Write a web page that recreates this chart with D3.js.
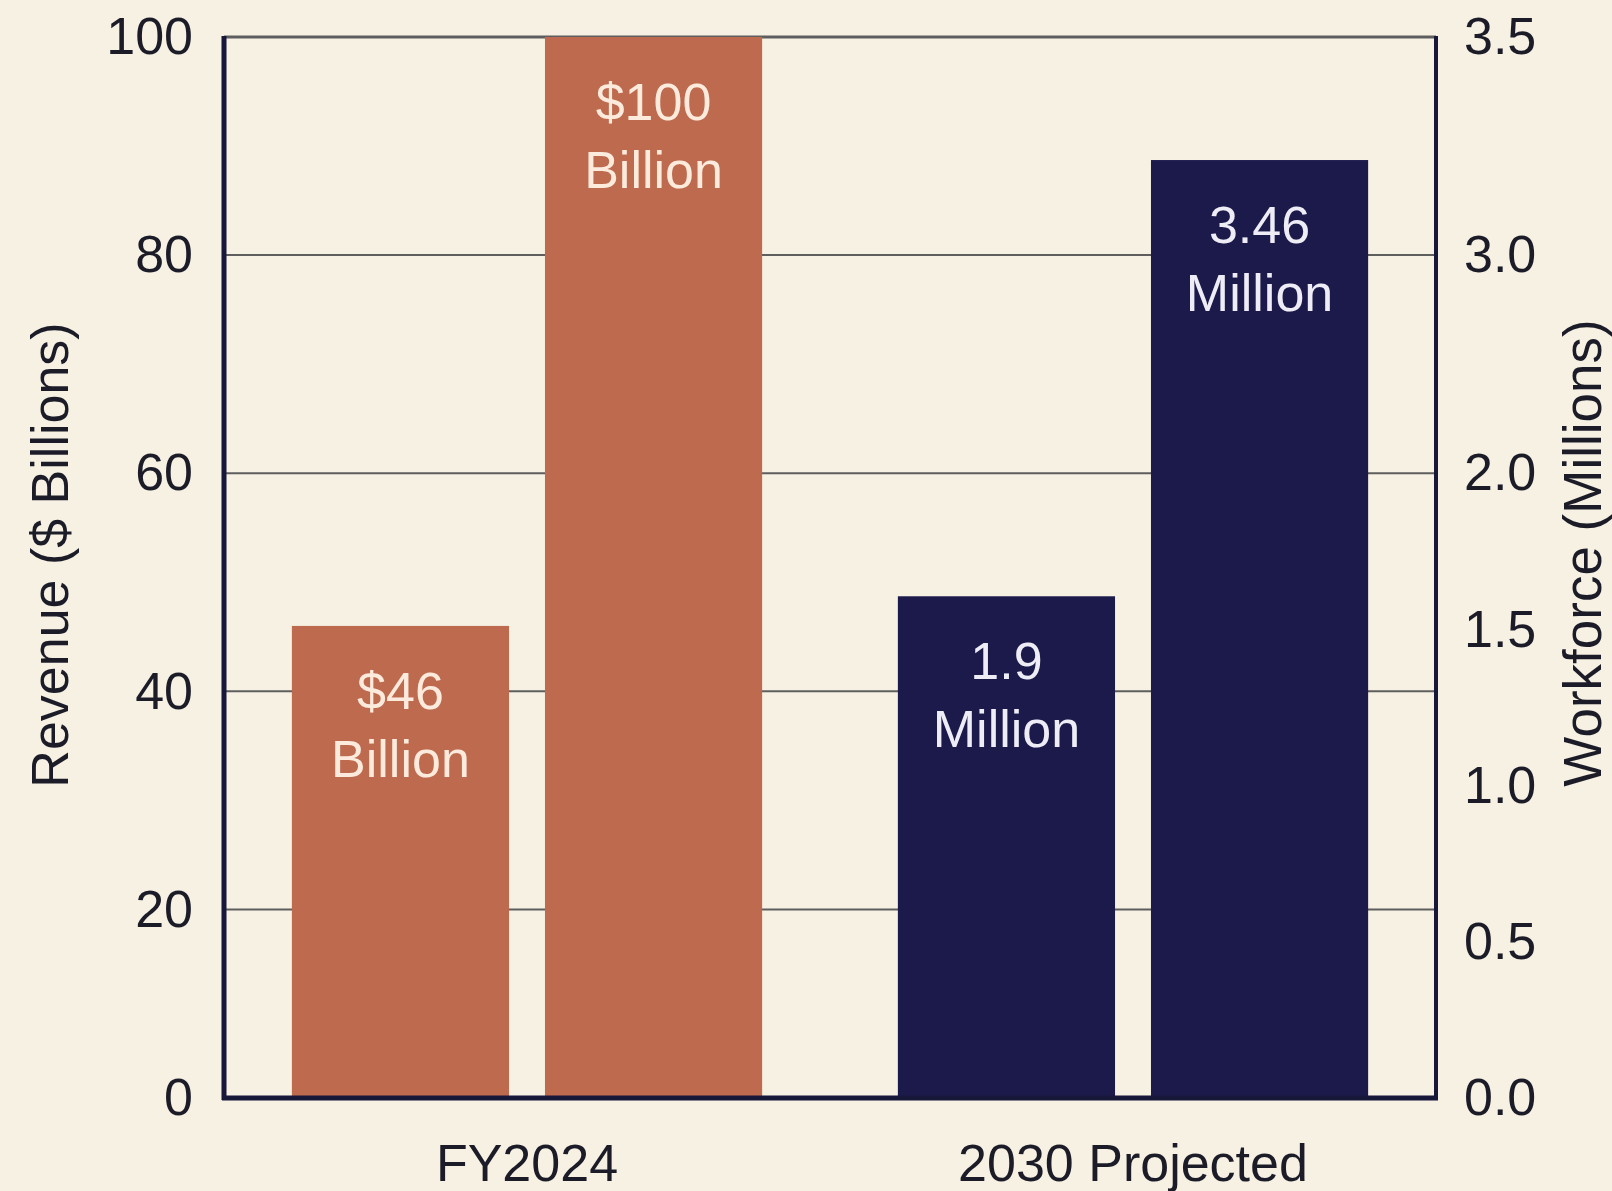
<!DOCTYPE html>
<html>
<head>
<meta charset="utf-8">
<script src="https://cdn.jsdelivr.net/npm/d3@7"></script>
<style>
  html, body { margin: 0; padding: 0; background: #F6F1E3; }
  svg { display: block; }
  text { font-family: "Liberation Sans", Arial, Helvetica, sans-serif; }
</style>
</head>
<body>
<svg id="chart" width="1612" height="1191"></svg>
<script>
// ---- data ----
const categories = ["FY2024", "2030 Projected"];
const revenue = [46, 100];                 // $ Billions, FY2024 group
const revenueLabels = [["$46", "Billion"], ["$100", "Billion"]];
const workforce = [1.9, 3.46];             // Millions, 2030 Projected group
const workforceLabels = [["1.9", "Million"], ["3.46", "Million"]];
const leftTicks = [0, 20, 40, 60, 80, 100];
const rightTicks = [0, 0.5, 1.0, 1.5, 2.0, 3.0, 3.5];
const leftTitle = "Revenue ($ Billions)";
const rightTitle = "Workforce (Millions)";

// ---- layout ----
const W = 1612, H = 1191;
const plotLeft = 224, plotRight = 1436, plotTop = 37, plotBottom = 1098;
const zeroOffset = 29.6; // value-zero sits slightly below the drawn baseline
const zeroY = plotBottom + zeroOffset;

const colors = { bg: "#F6F1E3", revenue: "#BE6A4E", workforce: "#1B1A4B",
                 text: "#1C1C28", grid: "#5E5E5E", axis: "#17173A",
                 revLabel: "#FCEBDD", workLabel: "#EEEDF6" };

const svg = d3.select("#chart");
svg.append("rect").attr("width", W).attr("height", H).attr("fill", colors.bg);

// scales
const yRev = d3.scaleLinear().domain([0, 100]).range([zeroY, plotTop]);
const yWork = d3.scaleLinear().domain([0, 3.9]).range([zeroY, plotTop]);
// axis display scales (baseline label sits on drawn baseline)
const yLeftAxis = d3.scaleLinear().domain([0, 20, 100]).range([plotBottom, yRev(20), yRev(100)]);
const yRightAxis = d3.scaleLinear().domain([0, 2.0, 3.0, 3.5])
  .range([plotBottom, yRev(60), yRev(80), yRev(100)]);

const x0 = d3.scaleBand().domain(categories).range([plotLeft, plotRight])
  .paddingInner(0.224).paddingOuter(0.112);
const x1 = d3.scaleBand().domain([0, 1]).range([0, x0.bandwidth()]).paddingInner(0.142);

// gridlines
svg.append("g").selectAll("line").data(leftTicks.filter(d => d > 0)).join("line")
  .attr("x1", plotLeft).attr("x2", plotRight)
  .attr("y1", d => yRev(d)).attr("y2", d => yRev(d))
  .attr("stroke", colors.grid)
  .attr("stroke-width", d => d === 100 ? 3 : 2);

// bars
const groups = [
  { cat: categories[0], values: revenue, labels: revenueLabels, y: yRev, color: colors.revenue, lc: colors.revLabel },
  { cat: categories[1], values: workforce, labels: workforceLabels, y: yWork, color: colors.workforce, lc: colors.workLabel }
];
groups.forEach(g => {
  const gg = svg.append("g").attr("transform", `translate(${x0(g.cat)},0)`);
  gg.selectAll("rect").data(g.values).join("rect")
    .attr("x", (d, i) => x1(i))
    .attr("width", x1.bandwidth())
    .attr("y", d => g.y(d))
    .attr("height", d => plotBottom - g.y(d))
    .attr("fill", g.color);
  g.values.forEach((v, i) => {
    const cx = x1(i) + x1.bandwidth() / 2;
    const top = g.y(v);
    gg.append("text").attr("x", cx).attr("y", top + 83)
      .attr("text-anchor", "middle").attr("font-size", 52).attr("fill", g.lc)
      .text(g.labels[i][0]);
    gg.append("text").attr("x", cx).attr("y", top + 151)
      .attr("text-anchor", "middle").attr("font-size", 52).attr("fill", g.lc)
      .text(g.labels[i][1]);
  });
});

// axis lines
svg.append("line").attr("x1", plotLeft).attr("x2", plotLeft).attr("y1", plotTop - 1).attr("y2", plotBottom + 2)
  .attr("stroke", colors.axis).attr("stroke-width", 5);
svg.append("line").attr("x1", plotRight).attr("x2", plotRight).attr("y1", plotTop - 1).attr("y2", plotBottom + 2)
  .attr("stroke", colors.axis).attr("stroke-width", 4);
svg.append("line").attr("x1", plotLeft - 2).attr("x2", plotRight + 2).attr("y1", plotBottom).attr("y2", plotBottom)
  .attr("stroke", colors.axis).attr("stroke-width", 5);

// left axis
const la = svg.append("g").attr("transform", `translate(${plotLeft},0)`)
  .call(d3.axisLeft(yLeftAxis).tickValues(leftTicks).tickSize(0).tickPadding(31).tickFormat(d3.format("d")));
la.select(".domain").remove();
la.selectAll("text").attr("font-size", 52).attr("fill", colors.text)
  .attr("font-family", '"Liberation Sans", Arial, sans-serif');

// right axis
const ra = svg.append("g").attr("transform", `translate(${plotRight},0)`)
  .call(d3.axisRight(yRightAxis).tickValues(rightTicks).tickSize(0).tickPadding(28).tickFormat(d3.format(".1f")));
ra.select(".domain").remove();
ra.selectAll("text").attr("font-size", 52).attr("fill", colors.text)
  .attr("font-family", '"Liberation Sans", Arial, sans-serif');

// x labels
svg.append("g").selectAll("text").data(categories).join("text")
  .attr("x", d => x0(d) + x0.bandwidth() / 2)
  .attr("y", 1181)
  .attr("text-anchor", "middle").attr("font-size", 52).attr("fill", colors.text)
  .text(d => d);

// axis titles
svg.append("text").attr("transform", "translate(68,555) rotate(-90)")
  .attr("text-anchor", "middle").attr("font-size", 52).attr("fill", colors.text)
  .text(leftTitle);
svg.append("text").attr("transform", "translate(1601,553) rotate(-90)")
  .attr("text-anchor", "middle").attr("font-size", 53).attr("fill", colors.text)
  .text(rightTitle);
</script>
</body>
</html>
